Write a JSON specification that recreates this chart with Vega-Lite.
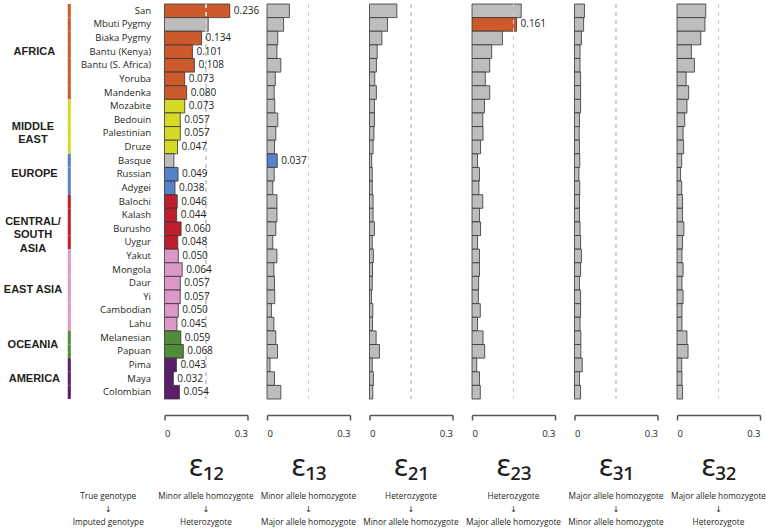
{
  "$schema": "https://vega.github.io/schema/vega-lite/v6.json",
  "padding": {"left": 0, "top": 3, "right": 0, "bottom": 0},
  "background": "white",
  "datasets": {
    "d": [
      {"p": "San", "r": "AFRICA", "e12": 0.236, "e13": 0.081, "e21": 0.099, "e23": 0.178, "e31": 0.036, "e32": 0.104},
      {"p": "Mbuti Pygmy", "r": "AFRICA", "e12": 0.158, "e13": 0.060, "e21": 0.065, "e23": 0.161, "e31": 0.033, "e32": 0.101},
      {"p": "Biaka Pygmy", "r": "AFRICA", "e12": 0.134, "e13": 0.039, "e21": 0.045, "e23": 0.110, "e31": 0.025, "e32": 0.086},
      {"p": "Bantu (Kenya)", "r": "AFRICA", "e12": 0.101, "e13": 0.036, "e21": 0.028, "e23": 0.071, "e31": 0.020, "e32": 0.052},
      {"p": "Bantu (S. Africa)", "r": "AFRICA", "e12": 0.108, "e13": 0.050, "e21": 0.025, "e23": 0.064, "e31": 0.020, "e32": 0.063},
      {"p": "Yoruba", "r": "AFRICA", "e12": 0.073, "e13": 0.030, "e21": 0.019, "e23": 0.048, "e31": 0.022, "e32": 0.033},
      {"p": "Mandenka", "r": "AFRICA", "e12": 0.080, "e13": 0.026, "e21": 0.025, "e23": 0.064, "e31": 0.022, "e32": 0.042},
      {"p": "Mozabite", "r": "MIDDLE EAST", "e12": 0.073, "e13": 0.028, "e21": 0.018, "e23": 0.045, "e31": 0.022, "e32": 0.036},
      {"p": "Bedouin", "r": "MIDDLE EAST", "e12": 0.057, "e13": 0.039, "e21": 0.018, "e23": 0.039, "e31": 0.018, "e32": 0.028},
      {"p": "Palestinian", "r": "MIDDLE EAST", "e12": 0.057, "e13": 0.032, "e21": 0.016, "e23": 0.040, "e31": 0.017, "e32": 0.022},
      {"p": "Druze", "r": "MIDDLE EAST", "e12": 0.047, "e13": 0.027, "e21": 0.013, "e23": 0.031, "e31": 0.018, "e32": 0.024},
      {"p": "Basque", "r": "EUROPE", "e12": 0.034, "e13": 0.037, "e21": 0.008, "e23": 0.020, "e31": 0.019, "e32": 0.017},
      {"p": "Russian", "r": "EUROPE", "e12": 0.049, "e13": 0.026, "e21": 0.010, "e23": 0.027, "e31": 0.016, "e32": 0.013},
      {"p": "Adygei", "r": "EUROPE", "e12": 0.038, "e13": 0.021, "e21": 0.010, "e23": 0.025, "e31": 0.019, "e32": 0.017},
      {"p": "Balochi", "r": "CENTRAL/SOUTH ASIA", "e12": 0.046, "e13": 0.036, "e21": 0.013, "e23": 0.039, "e31": 0.018, "e32": 0.020},
      {"p": "Kalash", "r": "CENTRAL/SOUTH ASIA", "e12": 0.044, "e13": 0.036, "e21": 0.013, "e23": 0.027, "e31": 0.018, "e32": 0.020},
      {"p": "Burusho", "r": "CENTRAL/SOUTH ASIA", "e12": 0.060, "e13": 0.032, "e21": 0.018, "e23": 0.031, "e31": 0.020, "e32": 0.025},
      {"p": "Uygur", "r": "CENTRAL/SOUTH ASIA", "e12": 0.048, "e13": 0.021, "e21": 0.010, "e23": 0.020, "e31": 0.022, "e32": 0.020},
      {"p": "Yakut", "r": "EAST ASIA", "e12": 0.050, "e13": 0.036, "e21": 0.014, "e23": 0.027, "e31": 0.025, "e32": 0.018},
      {"p": "Mongola", "r": "EAST ASIA", "e12": 0.064, "e13": 0.025, "e21": 0.011, "e23": 0.027, "e31": 0.022, "e32": 0.022},
      {"p": "Daur", "r": "EAST ASIA", "e12": 0.057, "e13": 0.027, "e21": 0.010, "e23": 0.024, "e31": 0.018, "e32": 0.018},
      {"p": "Yi", "r": "EAST ASIA", "e12": 0.057, "e13": 0.028, "e21": 0.007, "e23": 0.023, "e31": 0.022, "e32": 0.022},
      {"p": "Cambodian", "r": "EAST ASIA", "e12": 0.050, "e13": 0.016, "e21": 0.012, "e23": 0.030, "e31": 0.022, "e32": 0.018},
      {"p": "Lahu", "r": "EAST ASIA", "e12": 0.045, "e13": 0.025, "e21": 0.011, "e23": 0.020, "e31": 0.020, "e32": 0.018},
      {"p": "Melanesian", "r": "OCEANIA", "e12": 0.059, "e13": 0.032, "e21": 0.024, "e23": 0.040, "e31": 0.023, "e32": 0.036},
      {"p": "Papuan", "r": "OCEANIA", "e12": 0.068, "e13": 0.038, "e21": 0.036, "e23": 0.046, "e31": 0.023, "e32": 0.040},
      {"p": "Pima", "r": "AMERICA", "e12": 0.043, "e13": 0.011, "e21": 0.010, "e23": 0.017, "e31": 0.028, "e32": 0.017},
      {"p": "Maya", "r": "AMERICA", "e12": 0.032, "e13": 0.027, "e21": 0.014, "e23": 0.027, "e31": 0.018, "e32": 0.018},
      {"p": "Colombian", "r": "AMERICA", "e12": 0.054, "e13": 0.050, "e21": 0.012, "e23": 0.030, "e31": 0.022, "e32": 0.020}
    ],
    "labMid": [
      {"t": "AFRICA", "at": "Bantu (Kenya)"},
      {"t": "EUROPE", "at": "Russian"},
      {"t": "AMERICA", "at": "Maya"}
    ],
    "labEdge": [
      {"t": "MIDDLE\nEAST", "at": "Palestinian"},
      {"t": "CENTRAL/\nSOUTH\nASIA", "at": "Burusho"},
      {"t": "EAST ASIA", "at": "Yi"},
      {"t": "OCEANIA", "at": "Papuan"}
    ]
  },
  "data": {"name": "d"},
  "spacing": 19.5,
  "bounds": "flush",
  "resolve": {"scale": {"x": "independent", "y": "independent"}},
  "hconcat": [
    {
      "width": 144.5, "height": 395,
      "title": {"text": ["True genotype", "↓", "Imputed genotype"], "dx": 36, "offset": 93},
      "layer": [
        {
          "mark": {"type": "rect"},
          "encoding": {
            "y": {"field": "p", "type": "nominal", "scale": {"domain": ["San","Mbuti Pygmy","Biaka Pygmy","Bantu (Kenya)","Bantu (S. Africa)","Yoruba","Mandenka","Mozabite","Bedouin","Palestinian","Druze","Basque","Russian","Adygei","Balochi","Kalash","Burusho","Uygur","Yakut","Mongola","Daur","Yi","Cambodian","Lahu","Melanesian","Papuan","Pima","Maya","Colombian"], "paddingInner": 0, "paddingOuter": 0}, "axis": null},
            "x": {"datum": 0.469, "type": "quantitative", "scale": {"domain": [0, 1], "nice": false, "zero": false}, "axis": null},
            "x2": {"datum": 0.49},
            "color": {"field": "r", "type": "nominal", "scale": {"domain": ["AFRICA","MIDDLE EAST","EUROPE","CENTRAL/SOUTH ASIA","EAST ASIA","OCEANIA","AMERICA"], "range": ["#cc5a2c","#d6d925","#5582c8","#be1e2d","#dc98c8","#4f8d3a","#5e1d6b"]}, "legend": null}
          }
        },
        {
          "data": {"name": "labMid"},
          "mark": {"type": "text", "font": "Liberation Sans", "fontWeight": "bold", "fontSize": 11, "align": "center", "baseline": "middle", "lineBreak": "\n", "lineHeight": 13.5, "color": "#231f20"},
          "encoding": {
            "y": {"field": "at", "type": "nominal", "bandPosition": 0.5},
            "x": {"datum": 0.238, "type": "quantitative"},
            "text": {"field": "t"}
          }
        },
        {
          "data": {"name": "labEdge"},
          "mark": {"type": "text", "font": "Liberation Sans", "fontWeight": "bold", "fontSize": 11, "align": "center", "baseline": "middle", "lineBreak": "\n", "lineHeight": 13.5, "color": "#231f20"},
          "encoding": {
            "y": {"field": "at", "type": "nominal", "bandPosition": 0},
            "x": {"datum": 0.228, "type": "quantitative"},
            "text": {"field": "t"}
          }
        }
      ]
    },
    {
      "width": 83, "height": 395,
      "title": {"text": ["Minor allele homozygote", "↓", "Heterozygote"]},
      "transform": [
        {"fold": ["e12","e13","e21","e23","e31","e32"], "as": ["k","v"]},
        {"joinaggregate": [{"op": "max", "field": "v", "as": "mx"}], "groupby": ["p"]},
        {"filter": "datum.k === 'e12'"}
      ],
      "layer": [
        {
          "mark": {"type": "bar", "stroke": "#333333", "strokeWidth": 0.8},
          "encoding": {
            "y": {"field": "p", "type": "nominal", "scale": {"domain": ["San","Mbuti Pygmy","Biaka Pygmy","Bantu (Kenya)","Bantu (S. Africa)","Yoruba","Mandenka","Mozabite","Bedouin","Palestinian","Druze","Basque","Russian","Adygei","Balochi","Kalash","Burusho","Uygur","Yakut","Mongola","Daur","Yi","Cambodian","Lahu","Melanesian","Papuan","Pima","Maya","Colombian"], "paddingInner": 0, "paddingOuter": 0}, "axis": {"title": null, "domain": false, "ticks": false, "labelPadding": 14, "labelFont": "Open Sans", "labelFontSize": 9.5, "labelColor": "#231f20"}},
            "x": {"field": "v", "type": "quantitative", "scale": {"domain": [0, 0.3], "nice": false}, "axis": {"title": "ε₁₂", "values": [0,0.05,0.1,0.15,0.2,0.25,0.3], "labelExpr": "datum.value === 0 ? '0' : (abs(datum.value - 0.15) < 0.001 ? '0.15' : (abs(datum.value - 0.3) < 0.001 ? '0.3' : ''))"}},
            "color": {"condition": {"test": "datum.v === datum.mx", "field": "r", "type": "nominal", "legend": null}, "value": "#bdbdbd"}
          }
        },
        {
          "mark": {"type": "rule", "strokeDash": [4, 4], "color": "#cfcfcf", "strokeWidth": 1},
          "encoding": {"x": {"datum": 0.15}}
        },
        {
          "transform": [{"filter": "datum.v === datum.mx"}],
          "mark": {"type": "text", "align": "left", "baseline": "middle", "dx": 4, "font": "Open Sans", "fontSize": 10, "color": "#231f20"},
          "encoding": {
            "y": {"field": "p", "type": "nominal"},
            "x": {"field": "v", "type": "quantitative"},
            "text": {"field": "v", "type": "quantitative", "format": ".3f"}
          }
        }
      ]
    },
    {
      "width": 83, "height": 395,
      "title": {"text": ["Minor allele homozygote", "↓", "Major allele homozygote"]},
      "transform": [
        {"fold": ["e12","e13","e21","e23","e31","e32"], "as": ["k","v"]},
        {"joinaggregate": [{"op": "max", "field": "v", "as": "mx"}], "groupby": ["p"]},
        {"filter": "datum.k === 'e13'"}
      ],
      "layer": [
        {
          "mark": {"type": "bar", "stroke": "#333333", "strokeWidth": 0.8},
          "encoding": {
            "y": {"field": "p", "type": "nominal", "scale": {"domain": ["San","Mbuti Pygmy","Biaka Pygmy","Bantu (Kenya)","Bantu (S. Africa)","Yoruba","Mandenka","Mozabite","Bedouin","Palestinian","Druze","Basque","Russian","Adygei","Balochi","Kalash","Burusho","Uygur","Yakut","Mongola","Daur","Yi","Cambodian","Lahu","Melanesian","Papuan","Pima","Maya","Colombian"], "paddingInner": 0, "paddingOuter": 0}, "axis": null},
            "x": {"field": "v", "type": "quantitative", "scale": {"domain": [0, 0.3], "nice": false}, "axis": {"title": "ε₁₃", "values": [0,0.05,0.1,0.15,0.2,0.25,0.3], "labelExpr": "datum.value === 0 ? '0' : (abs(datum.value - 0.15) < 0.001 ? '0.15' : (abs(datum.value - 0.3) < 0.001 ? '0.3' : ''))"}},
            "color": {"condition": {"test": "datum.v === datum.mx", "field": "r", "type": "nominal", "legend": null}, "value": "#bdbdbd"}
          }
        },
        {
          "mark": {"type": "rule", "strokeDash": [4, 4], "color": "#cfcfcf", "strokeWidth": 1},
          "encoding": {"x": {"datum": 0.15}}
        },
        {
          "transform": [{"filter": "datum.v === datum.mx"}],
          "mark": {"type": "text", "align": "left", "baseline": "middle", "dx": 4, "font": "Open Sans", "fontSize": 10, "color": "#231f20"},
          "encoding": {
            "y": {"field": "p", "type": "nominal"},
            "x": {"field": "v", "type": "quantitative"},
            "text": {"field": "v", "type": "quantitative", "format": ".3f"}
          }
        }
      ]
    },
    {
      "width": 83, "height": 395,
      "title": {"text": ["Heterozygote", "↓", "Minor allele homozygote"]},
      "transform": [
        {"fold": ["e12","e13","e21","e23","e31","e32"], "as": ["k","v"]},
        {"joinaggregate": [{"op": "max", "field": "v", "as": "mx"}], "groupby": ["p"]},
        {"filter": "datum.k === 'e21'"}
      ],
      "layer": [
        {
          "mark": {"type": "bar", "stroke": "#333333", "strokeWidth": 0.8},
          "encoding": {
            "y": {"field": "p", "type": "nominal", "scale": {"domain": ["San","Mbuti Pygmy","Biaka Pygmy","Bantu (Kenya)","Bantu (S. Africa)","Yoruba","Mandenka","Mozabite","Bedouin","Palestinian","Druze","Basque","Russian","Adygei","Balochi","Kalash","Burusho","Uygur","Yakut","Mongola","Daur","Yi","Cambodian","Lahu","Melanesian","Papuan","Pima","Maya","Colombian"], "paddingInner": 0, "paddingOuter": 0}, "axis": null},
            "x": {"field": "v", "type": "quantitative", "scale": {"domain": [0, 0.3], "nice": false}, "axis": {"title": "ε₂₁", "values": [0,0.05,0.1,0.15,0.2,0.25,0.3], "labelExpr": "datum.value === 0 ? '0' : (abs(datum.value - 0.15) < 0.001 ? '0.15' : (abs(datum.value - 0.3) < 0.001 ? '0.3' : ''))"}},
            "color": {"condition": {"test": "datum.v === datum.mx", "field": "r", "type": "nominal", "legend": null}, "value": "#bdbdbd"}
          }
        },
        {
          "mark": {"type": "rule", "strokeDash": [4, 4], "color": "#cfcfcf", "strokeWidth": 1},
          "encoding": {"x": {"datum": 0.15}}
        },
        {
          "transform": [{"filter": "datum.v === datum.mx"}],
          "mark": {"type": "text", "align": "left", "baseline": "middle", "dx": 4, "font": "Open Sans", "fontSize": 10, "color": "#231f20"},
          "encoding": {
            "y": {"field": "p", "type": "nominal"},
            "x": {"field": "v", "type": "quantitative"},
            "text": {"field": "v", "type": "quantitative", "format": ".3f"}
          }
        }
      ]
    },
    {
      "width": 83, "height": 395,
      "title": {"text": ["Heterozygote", "↓", "Major allele homozygote"]},
      "transform": [
        {"fold": ["e12","e13","e21","e23","e31","e32"], "as": ["k","v"]},
        {"joinaggregate": [{"op": "max", "field": "v", "as": "mx"}], "groupby": ["p"]},
        {"filter": "datum.k === 'e23'"}
      ],
      "layer": [
        {
          "mark": {"type": "bar", "stroke": "#333333", "strokeWidth": 0.8},
          "encoding": {
            "y": {"field": "p", "type": "nominal", "scale": {"domain": ["San","Mbuti Pygmy","Biaka Pygmy","Bantu (Kenya)","Bantu (S. Africa)","Yoruba","Mandenka","Mozabite","Bedouin","Palestinian","Druze","Basque","Russian","Adygei","Balochi","Kalash","Burusho","Uygur","Yakut","Mongola","Daur","Yi","Cambodian","Lahu","Melanesian","Papuan","Pima","Maya","Colombian"], "paddingInner": 0, "paddingOuter": 0}, "axis": null},
            "x": {"field": "v", "type": "quantitative", "scale": {"domain": [0, 0.3], "nice": false}, "axis": {"title": "ε₂₃", "values": [0,0.05,0.1,0.15,0.2,0.25,0.3], "labelExpr": "datum.value === 0 ? '0' : (abs(datum.value - 0.15) < 0.001 ? '0.15' : (abs(datum.value - 0.3) < 0.001 ? '0.3' : ''))"}},
            "color": {"condition": {"test": "datum.v === datum.mx", "field": "r", "type": "nominal", "legend": null}, "value": "#bdbdbd"}
          }
        },
        {
          "mark": {"type": "rule", "strokeDash": [4, 4], "color": "#cfcfcf", "strokeWidth": 1},
          "encoding": {"x": {"datum": 0.15}}
        },
        {
          "transform": [{"filter": "datum.v === datum.mx"}],
          "mark": {"type": "text", "align": "left", "baseline": "middle", "dx": 4, "font": "Open Sans", "fontSize": 10, "color": "#231f20"},
          "encoding": {
            "y": {"field": "p", "type": "nominal"},
            "x": {"field": "v", "type": "quantitative"},
            "text": {"field": "v", "type": "quantitative", "format": ".3f"}
          }
        }
      ]
    },
    {
      "width": 83, "height": 395,
      "title": {"text": ["Major allele homozygote", "↓", "Minor allele homozygote"]},
      "transform": [
        {"fold": ["e12","e13","e21","e23","e31","e32"], "as": ["k","v"]},
        {"joinaggregate": [{"op": "max", "field": "v", "as": "mx"}], "groupby": ["p"]},
        {"filter": "datum.k === 'e31'"}
      ],
      "layer": [
        {
          "mark": {"type": "bar", "stroke": "#333333", "strokeWidth": 0.8},
          "encoding": {
            "y": {"field": "p", "type": "nominal", "scale": {"domain": ["San","Mbuti Pygmy","Biaka Pygmy","Bantu (Kenya)","Bantu (S. Africa)","Yoruba","Mandenka","Mozabite","Bedouin","Palestinian","Druze","Basque","Russian","Adygei","Balochi","Kalash","Burusho","Uygur","Yakut","Mongola","Daur","Yi","Cambodian","Lahu","Melanesian","Papuan","Pima","Maya","Colombian"], "paddingInner": 0, "paddingOuter": 0}, "axis": null},
            "x": {"field": "v", "type": "quantitative", "scale": {"domain": [0, 0.3], "nice": false}, "axis": {"title": "ε₃₁", "values": [0,0.05,0.1,0.15,0.2,0.25,0.3], "labelExpr": "datum.value === 0 ? '0' : (abs(datum.value - 0.15) < 0.001 ? '0.15' : (abs(datum.value - 0.3) < 0.001 ? '0.3' : ''))"}},
            "color": {"condition": {"test": "datum.v === datum.mx", "field": "r", "type": "nominal", "legend": null}, "value": "#bdbdbd"}
          }
        },
        {
          "mark": {"type": "rule", "strokeDash": [4, 4], "color": "#cfcfcf", "strokeWidth": 1},
          "encoding": {"x": {"datum": 0.15}}
        },
        {
          "transform": [{"filter": "datum.v === datum.mx"}],
          "mark": {"type": "text", "align": "left", "baseline": "middle", "dx": 4, "font": "Open Sans", "fontSize": 10, "color": "#231f20"},
          "encoding": {
            "y": {"field": "p", "type": "nominal"},
            "x": {"field": "v", "type": "quantitative"},
            "text": {"field": "v", "type": "quantitative", "format": ".3f"}
          }
        }
      ]
    },
    {
      "width": 83, "height": 395,
      "title": {"text": ["Major allele homozygote", "↓", "Heterozygote"]},
      "transform": [
        {"fold": ["e12","e13","e21","e23","e31","e32"], "as": ["k","v"]},
        {"joinaggregate": [{"op": "max", "field": "v", "as": "mx"}], "groupby": ["p"]},
        {"filter": "datum.k === 'e32'"}
      ],
      "layer": [
        {
          "mark": {"type": "bar", "stroke": "#333333", "strokeWidth": 0.8},
          "encoding": {
            "y": {"field": "p", "type": "nominal", "scale": {"domain": ["San","Mbuti Pygmy","Biaka Pygmy","Bantu (Kenya)","Bantu (S. Africa)","Yoruba","Mandenka","Mozabite","Bedouin","Palestinian","Druze","Basque","Russian","Adygei","Balochi","Kalash","Burusho","Uygur","Yakut","Mongola","Daur","Yi","Cambodian","Lahu","Melanesian","Papuan","Pima","Maya","Colombian"], "paddingInner": 0, "paddingOuter": 0}, "axis": null},
            "x": {"field": "v", "type": "quantitative", "scale": {"domain": [0, 0.3], "nice": false}, "axis": {"title": "ε₃₂", "values": [0,0.05,0.1,0.15,0.2,0.25,0.3], "labelExpr": "datum.value === 0 ? '0' : (abs(datum.value - 0.15) < 0.001 ? '0.15' : (abs(datum.value - 0.3) < 0.001 ? '0.3' : ''))"}},
            "color": {"condition": {"test": "datum.v === datum.mx", "field": "r", "type": "nominal", "legend": null}, "value": "#bdbdbd"}
          }
        },
        {
          "mark": {"type": "rule", "strokeDash": [4, 4], "color": "#cfcfcf", "strokeWidth": 1},
          "encoding": {"x": {"datum": 0.15}}
        },
        {
          "transform": [{"filter": "datum.v === datum.mx"}],
          "mark": {"type": "text", "align": "left", "baseline": "middle", "dx": 4, "font": "Open Sans", "fontSize": 10, "color": "#231f20"},
          "encoding": {
            "y": {"field": "p", "type": "nominal"},
            "x": {"field": "v", "type": "quantitative"},
            "text": {"field": "v", "type": "quantitative", "format": ".3f"}
          }
        }
      ]
    }
  ],
  "config": {
    "view": {"stroke": null},
    "font": "Open Sans",
    "title": {"orient": "bottom", "frame": "group", "anchor": "middle", "font": "Open Sans, DejaVu Sans", "fontSize": 8.3, "fontWeight": "normal", "color": "#231f20", "lineHeight": 13, "offset": 10},
    "axisX": {"offset": 16, "grid": false, "domain": true, "ticks": true, "domainColor": "#555555", "domainWidth": 1.5, "tickColor": "#555555", "tickWidth": 1.5, "tickSize": 5, "labelFont": "Open Sans", "labelFontSize": 9.5, "labelColor": "#231f20", "labelPadding": 8, "labelOverlap": false, "titleFont": "Noto Sans", "titleFontSize": 30, "titleFontWeight": "normal", "titleColor": "#231f20", "titlePadding": 14}
  }
}
